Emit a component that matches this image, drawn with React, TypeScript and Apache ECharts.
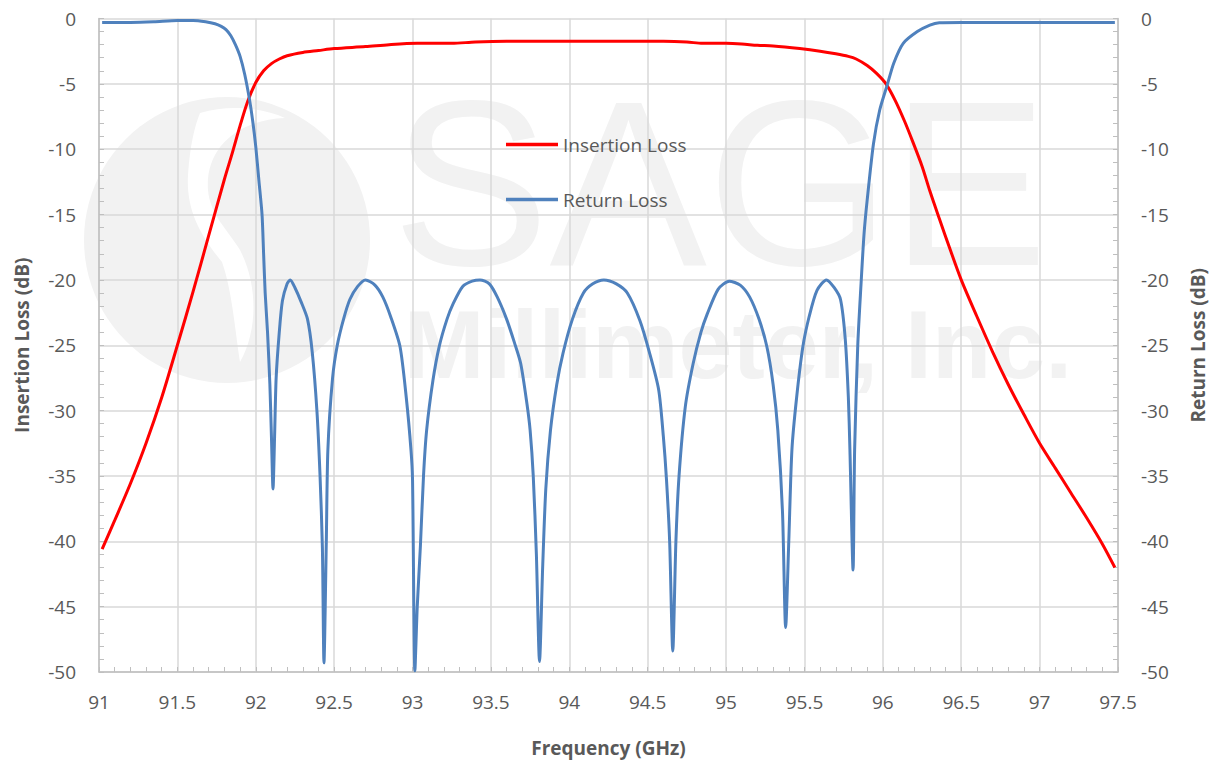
import React, { useEffect, useRef } from "react";
import * as echarts from "echarts";

// ---- data ----
const seriesNames = ["Insertion Loss", "Return Loss"];
const xMin = 91;
const xMax = 97.5;
const xStep = 0.5;
const yMin = -50;
const yMax = 0;
const yStep = 5;

const ilFreq = [
  91.02, 91.1, 91.2, 91.3, 91.4, 91.5, 91.6, 91.7, 91.8, 91.85, 91.9, 91.95, 92.0, 92.05, 92.1, 92.15, 92.2,
  92.3, 92.4, 92.5, 92.7, 92.85, 93.03, 93.25, 93.4, 93.6, 93.8, 94.0, 94.2, 94.4, 94.6, 94.75, 94.85, 95.0,
  95.1, 95.2, 95.3, 95.47, 95.6, 95.7, 95.78, 95.83, 95.9, 95.96, 96.02, 96.08, 96.14, 96.19, 96.25, 96.3,
  96.36, 96.43, 96.5, 96.6, 96.7, 96.8, 96.9, 97.0, 97.1, 97.2, 97.3, 97.4, 97.48,
];
const ilDb = [
  -40.6, -38.4, -35.6, -32.5, -29.0, -25.0, -20.9, -16.6, -12.3, -10.3, -8.2, -6.3, -4.9, -4.0, -3.45, -3.1,
  -2.85, -2.6, -2.45, -2.3, -2.15, -2.0, -1.9, -1.9, -1.8, -1.75, -1.75, -1.75, -1.75, -1.75, -1.75, -1.8,
  -1.9, -1.9, -1.95, -2.05, -2.1, -2.3, -2.5, -2.7, -2.9, -3.1, -3.6, -4.2, -5.0, -6.3, -7.9, -9.4, -11.3,
  -13.2, -15.3, -17.7, -20.0, -22.8, -25.5, -28.0, -30.3, -32.5, -34.4, -36.3, -38.2, -40.2, -42.0,
];

const rlFreq = [
  91.02, 91.2, 91.35, 91.5, 91.6, 91.68, 91.74, 91.78, 91.81, 91.84, 91.87, 91.9, 91.93, 91.96, 91.98, 92.0,
  92.02, 92.04, 92.05, 92.06, 92.075, 92.09, 92.1, 92.11, 92.12, 92.13, 92.15, 92.17, 92.2, 92.22, 92.25,
  92.29, 92.33, 92.36, 92.39, 92.41, 92.425, 92.435, 92.45, 92.46, 92.49, 92.52, 92.56, 92.6, 92.65, 92.7,
  92.76, 92.81, 92.86, 92.92, 92.96, 92.99, 93.0, 93.015, 93.03, 93.05, 93.07, 93.09, 93.13, 93.17, 93.22,
  93.26, 93.32, 93.38, 93.43, 93.49, 93.54, 93.6, 93.65, 93.69, 93.73, 93.75, 93.77, 93.79, 93.81, 93.83,
  93.85, 93.88, 93.92, 93.96, 94.02, 94.09, 94.15, 94.22, 94.3, 94.37, 94.45, 94.51, 94.57, 94.6, 94.62,
  94.64, 94.66, 94.68, 94.7, 94.74, 94.79, 94.84, 94.88, 94.95, 95.02, 95.09, 95.15, 95.21, 95.26, 95.3,
  95.33, 95.36, 95.38, 95.4, 95.42, 95.45, 95.49, 95.53, 95.58, 95.64, 95.69, 95.73, 95.76, 95.78, 95.79,
  95.81, 95.82, 95.84, 95.86, 95.88, 95.9, 95.94, 95.98, 96.03, 96.07, 96.13, 96.22, 96.3, 96.36, 96.5,
  97.0, 97.48,
];
const rlDb = [
  -0.3, -0.3, -0.25, -0.15, -0.15, -0.25, -0.4, -0.6, -0.85, -1.3, -2.0, -2.9, -4.3, -6.2, -7.8, -9.8,
  -12.4, -15.0, -18.0, -21.0, -24.0, -28.0, -32.0, -36.0, -32.0, -27.5, -24.0, -21.6, -20.3, -20.0, -20.6,
  -21.7, -23.0, -25.5, -30.0, -35.0, -40.5, -49.3, -40.0, -33.0, -27.5, -25.0, -23.0, -21.5, -20.5, -20.0,
  -20.4, -21.3, -22.8, -25.1, -29.0, -33.0, -35.3, -49.9, -45.0, -40.4, -35.0, -31.5, -27.7, -25.1, -23.0,
  -21.8, -20.5, -20.1, -20.0, -20.3, -21.3, -23.0, -24.8, -26.4, -29.5, -31.5, -35.0, -41.0, -49.2, -42.0,
  -36.0, -31.5, -28.0, -25.6, -23.0, -21.0, -20.3, -20.0, -20.3, -21.0, -23.1, -25.5, -28.4, -32.0, -35.3,
  -40.0, -48.4, -40.0, -35.0, -29.7, -26.4, -24.0, -22.6, -20.7, -20.1, -20.4, -21.3, -23.0, -25.1, -28.0,
  -31.5, -37.8, -46.6, -40.0, -33.0, -29.0, -25.1, -22.8, -20.8, -20.0, -20.6, -21.5, -24.5, -29.0, -33.0,
  -42.2, -33.0, -25.0, -20.5, -16.5, -13.9, -9.6, -7.0, -5.0, -3.4, -1.9, -1.0, -0.5, -0.32, -0.3,
  -0.3, -0.3,
];

const FONT = "'Open Sans', 'Liberation Sans', sans-serif";
const TEXT = "#595959";
const AXIS = "#bfbfbf";
const GRID = "#d9d9d9";
const WM = "#f2f2f2";

const swirlD =
  "M 200 113 C 230 104 262 108 285 118 C 235 120 205 150 208 190 C 210 215 228 230 240 250 C 258 285 258 330 240 362 C 235 330 232 290 222 262 C 200 235 186 210 188 175 C 190 145 195 125 200 113 Z";

let registered = false;
function registerShapes() {
  if (registered) return;
  echarts.graphic.registerShape("swirl", (echarts.graphic as any).extendPath(swirlD, {}));
  registered = true;
}

function zip(xs: number[], ys: number[]) {
  return xs.map((x, i) => [x, ys[i]]);
}

export default function App() {
  const ref = useRef<HTMLDivElement>(null);

  useEffect(() => {
    if (!ref.current) return;
    let swirlOk = true;
    try {
      registerShapes();
    } catch (e) {
      swirlOk = false;
    }
    const chart = echarts.init(ref.current, undefined, { renderer: "svg" });

    const watermark: any[] = [
      {
        type: "circle",
        z: -10,
        silent: true,
        shape: { cx: 227, cy: 240, r: 143 },
        style: { fill: WM },
      },
      {
        type: "text",
        z: -10,
        silent: true,
        style: {
          text: "SAGE",
          x: 720,
          y: 183,
          fill: WM,
          font: `normal 236px 'Liberation Sans', sans-serif`,
          textAlign: "center",
          textVerticalAlign: "middle",
        },
      },
      {
        type: "text",
        z: -10,
        silent: true,
        style: {
          text: "Millimeter, Inc.",
          x: 738,
          y: 344,
          fill: WM,
          font: `bold 97px 'Liberation Sans', sans-serif`,
          textAlign: "center",
          textVerticalAlign: "middle",
        },
      },
    ];
    if (swirlOk) {
      watermark.splice(1, 0, {
        type: "swirl",
        z: -9,
        silent: true,
        x: 0,
        y: 0,
        style: { fill: "#ffffff" },
      });
    }

    const yAxisBase = (name: string, position: "left" | "right", gap: number, showSplit: boolean) => ({
      type: "value",
      position,
      min: yMin,
      max: yMax,
      interval: yStep,
      name,
      nameLocation: "middle",
      nameGap: gap,
      nameTextStyle: { color: TEXT, fontFamily: FONT, fontSize: 19, fontWeight: "bold" },
      axisLine: { show: true, lineStyle: { color: AXIS, width: 1.5 } },
      axisTick: { show: true, inside: true, length: 5, lineStyle: { color: AXIS } },
      minorTick: { show: true, splitNumber: 5, length: 5, lineStyle: { color: AXIS } },
      axisLabel: { color: TEXT, fontFamily: FONT, fontSize: 19, margin: 23 },
      splitLine: { show: showSplit, lineStyle: { color: GRID, width: 1.5 } },
    });

    chart.setOption({
      animation: false,
      backgroundColor: "#ffffff",
      graphic: { elements: watermark },
      grid: { left: 99, right: 102, top: 18.5, bottom: 94, containLabel: false },
      legend: {
        orient: "vertical",
        left: 506,
        top: 133,
        padding: 0,
        icon: "rect",
        itemWidth: 52,
        itemHeight: 3.5,
        itemGap: 32,
        data: seriesNames,
        textStyle: { color: TEXT, fontFamily: FONT, fontSize: 19, lineHeight: 23 },
      },
      xAxis: {
        type: "value",
        min: xMin,
        max: xMax,
        interval: xStep,
        name: "Frequency (GHz)",
        nameLocation: "middle",
        nameGap: 66,
        nameTextStyle: { color: TEXT, fontFamily: FONT, fontSize: 19, fontWeight: "bold" },
        axisLine: { show: true, onZero: false, lineStyle: { color: AXIS, width: 1.5 } },
        axisTick: { show: true, inside: true, length: 5, lineStyle: { color: AXIS } },
        minorTick: { show: true, splitNumber: 5, length: 5, lineStyle: { color: AXIS } },
        axisLabel: { color: TEXT, fontFamily: FONT, fontSize: 19, margin: 20 },
        splitLine: { show: true, lineStyle: { color: GRID, width: 1.5 } },
      },
      yAxis: [
        yAxisBase("Insertion Loss (dB)", "left", 68, true),
        yAxisBase("Return Loss (dB)", "right", 70, false),
      ],
      series: [
        {
          name: seriesNames[0],
          type: "line",
          yAxisIndex: 0,
          data: zip(ilFreq, ilDb),
          showSymbol: false,
          symbol: "none",
          smooth: 0.3,
          itemStyle: { color: "#ff0000" },
          lineStyle: { color: "#ff0000", width: 3 },
          z: 3,
        },
        {
          name: seriesNames[1],
          type: "line",
          yAxisIndex: 1,
          data: zip(rlFreq, rlDb),
          showSymbol: false,
          symbol: "none",
          smooth: 0.25,
          itemStyle: { color: "#4f81bd" },
          lineStyle: { color: "#4f81bd", width: 3 },
          z: 4,
        },
      ],
    });

    return () => chart.dispose();
  }, []);

  return (
    <div
      ref={ref}
      style={{ position: "fixed", left: 0, top: 0, width: 1220, height: 766, background: "#fff" }}
    />
  );
}
